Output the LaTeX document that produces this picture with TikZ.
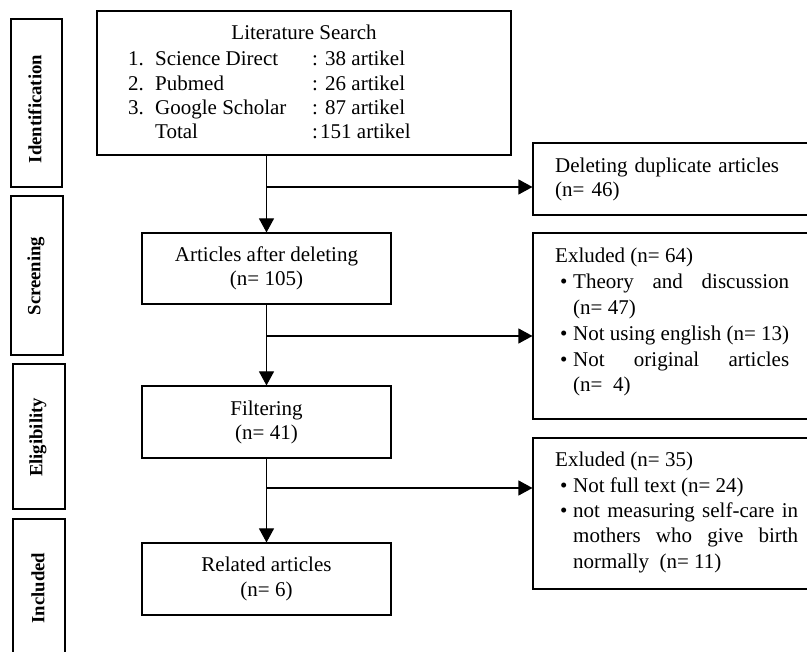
\documentclass[tikz,border=0pt]{standalone}
\usepackage{fontspec}
\setmainfont{Liberation Serif}
\usetikzlibrary{arrows.meta}
\tikzset{
  box/.style={draw, line width=1.1pt, inner sep=0pt},
  conn/.style={line width=1.1pt, -{Triangle[length=14pt,width=15pt]}},
  stage/.style={rotate=90, font=\fontsize{18.7}{22}\selectfont\bfseries, inner sep=0pt},
  txt/.style={font=\fontsize{21}{25}\selectfont, inner sep=0pt},
}
\newcommand\myitem{\par\hangindent=18pt\hangafter=1\noindent\hspace*{5pt}\makebox[13pt][l]{\textbullet}}
\begin{document}
\begin{tikzpicture}[x=1pt,y=-1pt]
\useasboundingbox (0,0) rectangle (807,652);
\clip (0,0) rectangle (807,652);
% stage boxes
\node[box, minimum width=51pt, minimum height=168pt] (sid) at (36.5,103) {};
\node[box, minimum width=52pt, minimum height=159pt] (ssc) at (37,275.5) {};
\node[box, minimum width=52pt, minimum height=145pt] (sel) at (39,436.5) {};
\node[box, minimum width=52pt, minimum height=161pt] (sin) at (39,599.5) {};
\node[stage] (tid) at (35,109) {Identification};
\node[stage] (tsc) at (36,276) {Screening};
\node[stage] (tel) at (38,437.5) {Eligibility};
\node[stage] (tin) at (38,588) {Included};
% main boxes
\node[box, minimum width=414pt, minimum height=144pt] (lit) at (304,83) {};
\node[txt, anchor=base] (ltitle) at (304,40) {Literature Search};
\node[txt, anchor=base west] (l1) at (128,66) {\makebox[27pt][l]{1.}\makebox[157pt][l]{Science Direct}\makebox[13pt][l]{:}38 artikel};
\node[txt, anchor=base west] (l2) at (128,91) {\makebox[27pt][l]{2.}\makebox[157pt][l]{Pubmed}\makebox[13pt][l]{:}26 artikel};
\node[txt, anchor=base west] (l3) at (128,115) {\makebox[27pt][l]{3.}\makebox[157pt][l]{Google Scholar}\makebox[13pt][l]{:}87 artikel};
\node[txt, anchor=base west] (l4) at (128,139) {\makebox[27pt][l]{}\makebox[157pt][l]{Total}\makebox[8pt][l]{:}151 artikel};
\node[box, txt, align=center, minimum width=249pt, minimum height=71pt, font=\fontsize{21}{24}\selectfont] (art) at (266.5,268.5) {Articles after deleting\\(n=~105)};
\node[box, txt, align=center, minimum width=249pt, minimum height=72pt, font=\fontsize{21}{24}\selectfont] (fil) at (266.5,422) {Filtering\\(n=~41)};
\node[box, txt, align=center, minimum width=249pt, minimum height=72pt, font=\fontsize{21}{25}\selectfont] (rel) at (266.5,579) {Related articles\\(n=~6)};
% right boxes
\node[box, minimum width=297pt, minimum height=72pt] (del) at (681.5,179) {};
\node[box, minimum width=297pt, minimum height=186pt] (ex1) at (681.5,326) {};
\node[box, minimum width=297pt, minimum height=151pt] (ex2) at (681.5,513.5) {};
\node[txt, anchor=base west, text width=234pt, align=left, font=\fontsize{21}{24}\selectfont] (tdel) at (555,173) {Deleting duplicate articles\par (n=~46)};
\node[txt, anchor=base west, text width=234pt, align=justify, font=\fontsize{21}{25.8}\selectfont] (tex1) at (555,263) {\noindent Exluded (n=~64)\myitem Theory and discussion\linebreak (n=~47)\myitem Not using english (n=~13)\myitem Not original articles\linebreak (n=~~4)\par};
\node[txt, anchor=base west, text width=243pt, align=justify, font=\fontsize{21}{25.3}\selectfont] (tex2) at (555,467) {\noindent Exluded (n=~35)\myitem Not full text (n=~24)\myitem not measuring self-care in\linebreak mothers who give birth\linebreak normally~~(n=~11)\par};
% connectors
\coordinate (b1) at (art.north |- 0,187);
\coordinate (b2) at (art.south |- 0,336);
\coordinate (b3) at (fil.south |- 0,488);
\draw[conn] (art.north |- lit.south) -- (art.north);
\draw[conn] (b1) -- (b1 -| del.west);
\draw[conn] (art.south) -- (fil.north);
\draw[conn] (b2) -- (b2 -| ex1.west);
\draw[conn] (fil.south) -- (rel.north);
\draw[conn] (b3) -- (b3 -| ex2.west);
\end{tikzpicture}
\end{document}
